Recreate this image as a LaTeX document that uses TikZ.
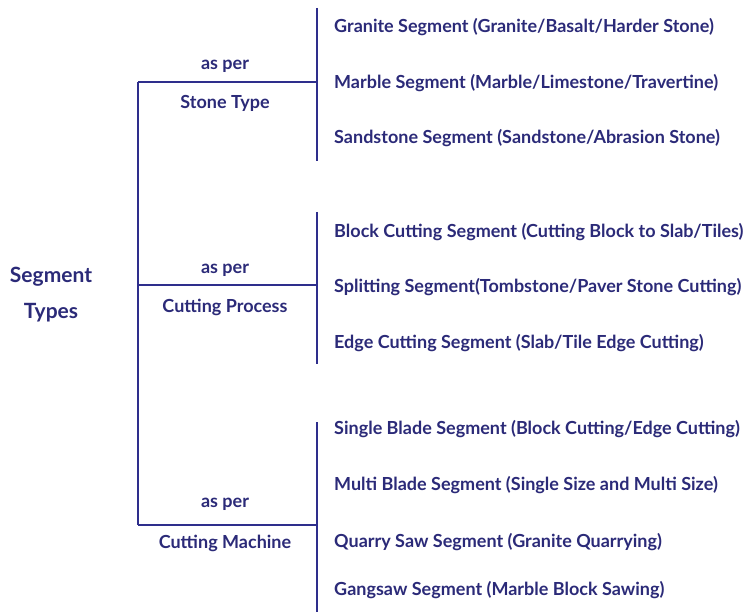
\documentclass[tikz,border=0pt]{standalone}
\usepackage{fontspec}
\setmainfont{Lato}
\definecolor{navy}{HTML}{2B2A78}
\definecolor{linec}{HTML}{2E2E8C}
\begin{document}
\begin{tikzpicture}[x=1pt,y=-1pt,
  every node/.style={text=navy,font=\bfseries,inner sep=0pt},
  item/.style={anchor=west,font=\bfseries\fontsize{18}{20}\selectfont},
  mid/.style={font=\bfseries\fontsize{18}{20}\selectfont},
  big/.style={font=\bfseries\fontsize{21}{24}\selectfont},
  ln/.style={draw=linec,line width=2.4pt},
  bar/.style={draw=linec,line width=1.6pt}]
\useasboundingbox (0,0) rectangle (747,612);
% root
\node[big] (seg) at (51,277) {Segment};
\node[big] (typ) at (51,313) {Types};
% trunk coordinates
\coordinate (t1) at (138,82);
\coordinate (t2) at (138,285);
\coordinate (t3) at (138,525);
\coordinate (b1) at (317,82);
\coordinate (b2) at (317,285);
\coordinate (b3) at (317,525);
\draw[ln] (t1) -- (t3);
\draw[ln] (t1) -- (b1);
\draw[ln] (t2) -- (b2);
\draw[ln] (t3) -- (b3);
% bars
\coordinate (r1a) at (317,8);   \coordinate (r1b) at (317,161);
\coordinate (r2a) at (317,212); \coordinate (r2b) at (317,364);
\coordinate (r3a) at (317,422); \coordinate (r3b) at (317,612);
\draw[bar] (r1a) -- (r1b);
\draw[bar] (r2a) -- (r2b);
\draw[bar] (r3a) -- (r3b);
% mid labels
\node[mid] (ap1) at (225,66) {as per};
\node[mid] (st) at (225,103) {Stone Type};
\node[mid] (ap2) at (225,270) {as per};
\node[mid] (cp) at (225,307) {Cutting Process};
\node[mid] (ap3) at (225,504) {as per};
\node[mid] (cm) at (225,543) {Cutting Machine};
% items
\node[item] (i1) at (334,27) {Granite Segment (Granite/Basalt/Harder Stone)};
\node[item] (i2) at (334,83) {Marble Segment (Marble/Limestone/Travertine)};
\node[item] (i3) at (334,138) {Sandstone Segment (Sandstone/Abrasion Stone)};
\node[item] (i4) at (334,232) {Block Cutting Segment (Cutting Block to Slab/Tiles)};
\node[item] (i5) at (334,287) {Splitting Segment(Tombstone/Paver Stone Cutting)};
\node[item] (i6) at (334,343) {Edge Cutting Segment (Slab/Tile Edge Cutting)};
\node[item] (i7) at (334,429) {Single Blade Segment (Block Cutting/Edge Cutting)};
\node[item] (i8) at (334,485) {Multi Blade Segment (Single Size and Multi Size)};
\node[item] (i9) at (334,542) {Quarry Saw Segment (Granite Quarrying)};
\node[item] (i10) at (334,590) {Gangsaw Segment (Marble Block Sawing)};
\end{tikzpicture}
\end{document}
